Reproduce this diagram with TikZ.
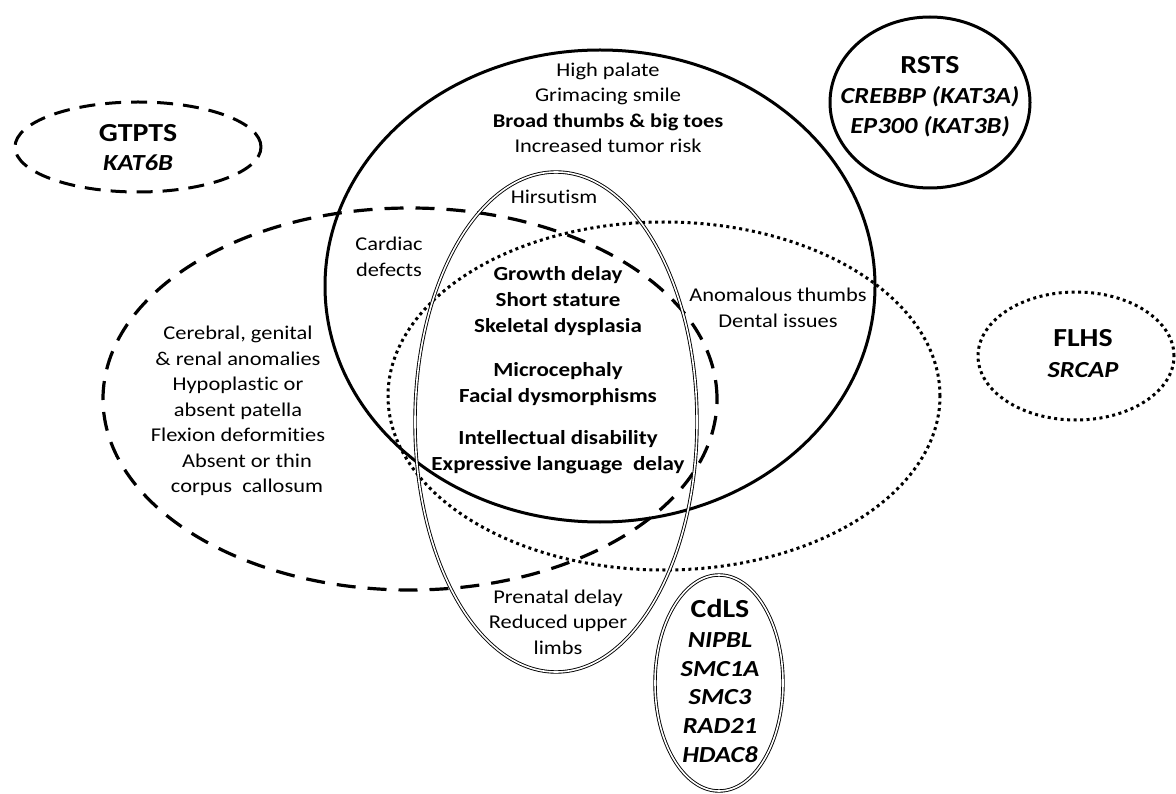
\documentclass[tikz,border=0pt]{standalone}
\usepackage{fontspec}
\setmainfont{Carlito}[FakeStretch=1.15, Ligatures=NoCommon]
\begin{document}
\begin{tikzpicture}[x=1pt,y=-1pt,
  solidl/.style={line width=3pt},
  dashl/.style={line width=3.2pt, dash pattern=on 19pt off 12pt},
  dashs/.style={line width=3pt, dash pattern=on 16pt off 10pt},
  dotl/.style={line width=3pt, dash pattern=on 3pt off 3.5pt},
  dbl/.style={line width=0.9pt, double, double distance=1.6pt},
  txt/.style={align=center, inner sep=0pt, font=\fontsize{19.5}{25.5}\selectfont},
  btxt/.style={align=center, inner sep=0pt, font=\fontsize{20}{26}\selectfont\bfseries},
  ttl/.style={inner sep=0pt, font=\fontsize{26}{30}\selectfont\bfseries},
  gene/.style={align=center, inner sep=0pt, font=\fontsize{23}{30}\selectfont\bfseries\itshape},
  cgene/.style={align=center, inner sep=0pt, font=\fontsize{23}{28.75}\selectfont\bfseries\itshape}]
\useasboundingbox (0,0) rectangle (1176,794);
% set ellipses
\draw[solidl] (600,286) ellipse [x radius=275pt, y radius=236pt];
\draw[dashl] (410,399) ellipse [x radius=307pt, y radius=191pt];
\draw[dotl] (664,396) ellipse [x radius=276pt, y radius=174pt];
\draw[dbl] (556,422) ellipse [x radius=141pt, y radius=250pt];
% syndrome ellipses
\draw[dashs] (138,147) ellipse [x radius=123pt, y radius=45pt];
\draw[solidl] (930,102.5) ellipse [x radius=100pt, y radius=85.5pt];
\draw[dotl] (1076,356) ellipse [x radius=98pt, y radius=64pt];
\draw[dbl] (719,683) ellipse [x radius=64pt, y radius=108pt];
% texts
\node[txt] (rsts feat) at (608,108) {High palate\\Grimacing smile\\\textbf{Broad thumbs \& big toes}\\Increased tumor risk};
\node[txt] (hirs) at (554,197) {Hirsutism};
\node[txt] (card) at (389,257) {Cardiac\\defects};
\node[btxt] (g1) at (558,301) {Growth delay\\Short stature\\Skeletal dysplasia};
\node[btxt] (g2) at (558,384) {Microcephaly\\Facial dysmorphisms};
\node[btxt] (g3) at (558,452) {Intellectual disability\\Expressive language\ \ delay};
\node[txt] (anom) at (778,308) {Anomalous thumbs\\Dental issues};
\node[txt] (left) at (238,411) {Cerebral, genital\\\& renal anomalies\\Hypoplastic or\\absent patella\\Flexion deformities\\\hspace*{18pt}Absent or thin\\\hspace*{18pt}corpus\ \ callosum};
\node[txt] (pren) at (558,622) {Prenatal delay\\Reduced upper\\limbs};
% syndrome labels
\node[ttl] (gtpts) at (138,133) {GTPTS};
\node[gene] (kat6b) at (138,163) {KAT6B};
\node[ttl] (rsts) at (930,65) {RSTS};
\node[gene] (rstsg) at (930,112) {CREBBP (KAT3A)\\EP300 (KAT3B)};
\node[ttl] (flhs) at (1083,338) {FLHS};
\node[gene] (srcap) at (1083,370) {SRCAP};
\node[ttl] (cdls) at (720,608) {CdLS};
\node[cgene] (cdlsg) at (720,697.5) {NIPBL\\SMC1A\\SMC3\\RAD21\\HDAC8};
\end{tikzpicture}
\end{document}
